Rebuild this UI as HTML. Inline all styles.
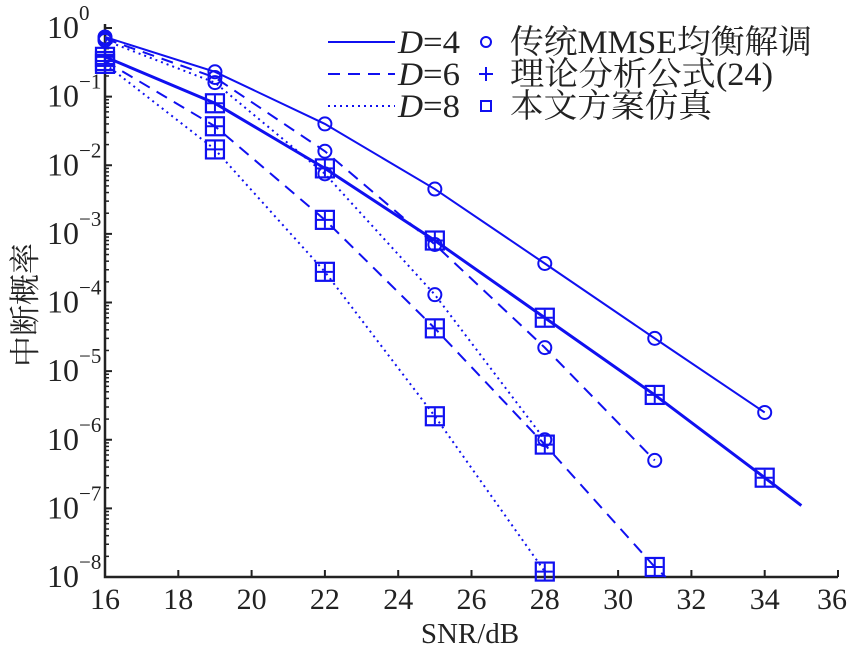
<!DOCTYPE html>
<html><head><meta charset="utf-8"><style>
html,body{margin:0;padding:0;background:#fff;}
svg{display:block;}
text{font-family:"Liberation Serif","Noto Serif CJK SC",serif;fill:#222;}
</style></head><body>
<svg id="chart" width="850" height="654" viewBox="0 0 850 654" xmlns="http://www.w3.org/2000/svg">
<g id="axes"></g>
<g id="series"></g>
<g id="legend"></g>
<text x="470" y="643" font-size="29" text-anchor="middle">SNR/dB</text>
<text transform="translate(36,305) rotate(-90)" font-size="31" text-anchor="middle">中断概率</text>
</svg>
<script>
const xTicks=[16,18,20,22,24,26,28,30,32,34,36];
const yExps=[0,-1,-2,-3,-4,-5,-6,-7,-8];
const snrMain=[16,19,22,25,28,31,34];
const d4Mmse=[0.74,0.23,0.04,4.5e-3,3.7e-4,3e-5,2.5e-6];
const d4Theory=[0.38,0.08,9e-3,8e-4,6e-5,4.5e-6,2.8e-7,1.1e-7];
const d4TheoryX=[16,19,22,25,28,31,34,35];
const d4Sim=[0.38,0.08,9e-3,8e-4,6e-5,4.5e-6,2.8e-7];
const d6Mmse=[0.7,0.19,0.016,7e-4,2.2e-5,5e-7];
const d6Theory=[0.33,0.037,1.6e-3,4.2e-5,8.5e-7,1.4e-8,1e-8];
const d6TheoryX=[16,19,22,25,28,31,31.3];
const d6Sim=[0.33,0.037,1.6e-3,4.2e-5,8.5e-7,1.4e-8];
const d8Mmse=[0.66,0.16,7.5e-3,1.3e-4,1e-6];
const d8Theory=[0.3,0.017,2.8e-4,2.2e-6,1.2e-8];
const d8Sim=[0.3,0.017,2.8e-4,2.2e-6,1.2e-8];

const NS='http://www.w3.org/2000/svg';
const X0=105,X1=838,Y0=28,Y1=577,BLUE='#1010f0';
const sx=v=>X0+(v-16)/(36-16)*(X1-X0);
const sy=v=>Y0+(-Math.log10(v))/8*(Y1-Y0);
function mk(tag,attrs,parent){const e=document.createElementNS(NS,tag);for(const k in attrs)e.setAttribute(k,attrs[k]);parent.appendChild(e);return e;}
const axes=document.getElementById('axes'),ser=document.getElementById('series'),leg=document.getElementById('legend');

let a=mk('path',{d:`M${X0},${Y0-4}V${Y1}H${X1}`,stroke:'#222','stroke-width':2.5,fill:'none'},axes);


xTicks.forEach(t=>{
 const x=sx(t);
 let l=mk('line',{x1:x,x2:x,y1:Y1,y2:Y1-7,stroke:'#222','stroke-width':2},axes);
 
 
 let tx=mk('text',{x:(t===36?x-6:x),y:Y1+32,'font-size':30,'text-anchor':'middle'},axes);
 tx.textContent=t;
 
 
});
yExps.forEach(e=>{
 const y=sy(Math.pow(10,e));
 let l=mk('line',{x1:X0,x2:X0+7,y1:y,y2:y,stroke:'#222','stroke-width':2},axes);
 
 
 if(e>-8){for(let m=2;m<=9;m++){const ym=sy(Math.pow(10,e-1)*m);
  let mm=mk('line',{x1:X0,x2:X0+4,y1:ym,y2:ym,stroke:'#222','stroke-width':1.5},axes);
  
  }}
 let tx=mk('text',{x:79,y:y+10,'font-size':32,'text-anchor':'end'},axes);
 tx.textContent='10';
 
 
 let sp=mk('text',{x:79,y:y-8,'font-size':21},axes);
 sp.textContent=e===0?'0':'\u2212'+(-e);
 
 
});

const dashes={4:'',6:'12,8',8:'2,4'};
function line(xs,ys,d,name,w){
 const pts=xs.map((x,i)=>sx(x)+','+sy(ys[i])).join(' ');
 let p=mk('polyline',{points:pts,fill:'none',stroke:BLUE,'stroke-width':w||2,'stroke-dasharray':dashes[d]},ser);
 
 
}
function circles(ys,name){ys.forEach((v,i)=>{
 let c=mk('circle',{cx:sx(snrMain[i]),cy:sy(v),r:6.5,fill:'none',stroke:BLUE,'stroke-width':2},ser);
 
 });}
function pluses(ys,name){ys.forEach((v,i)=>{const x=sx(snrMain[i]),y=sy(v);
 let p=mk('path',{d:`M${x-8},${y}H${x+8}M${x},${y-8}V${y+8}`,stroke:BLUE,'stroke-width':2},ser);
 
 });}
function squares(ys,name){ys.forEach((v,i)=>{const x=sx(snrMain[i]),y=sy(v);
 let s=mk('rect',{x:x-9,y:y-9,width:18,height:18,fill:'none',stroke:BLUE,'stroke-width':2.2},ser);
 
 });}

line(snrMain.slice(0,d4Mmse.length),d4Mmse,4,'line-d4-mmse');
line(d4TheoryX,d4Theory,4,'line-d4-theory',3);
line(snrMain.slice(0,d6Mmse.length),d6Mmse,6,'line-d6-mmse');
line(d6TheoryX,d6Theory,6,'line-d6-theory');
line(snrMain.slice(0,d8Mmse.length),d8Mmse,8,'line-d8-mmse');
line(snrMain.slice(0,d8Theory.length),d8Theory,8,'line-d8-theory');
circles(d4Mmse,'marker-d4-mmse');circles(d6Mmse,'marker-d6-mmse');circles(d8Mmse,'marker-d8-mmse');
pluses(d4Theory.slice(0,7),'marker-d4-theory');pluses(d6Theory.slice(0,6),'marker-d6-theory');pluses(d8Theory,'marker-d8-theory');
squares(d4Sim,'marker-d4-sim');squares(d6Sim,'marker-d6-sim');squares(d8Sim,'marker-d8-sim');

const legD=[4,6,8],legY=[42,74,106];
legD.forEach((d,i)=>{
 let l=mk('line',{x1:328,x2:395,y1:legY[i],y2:legY[i],stroke:BLUE,'stroke-width':2,'stroke-dasharray':dashes[d]},leg);
 
 
 let t=mk('text',{x:398,y:legY[i]+11,'font-size':33,textLength:62,lengthAdjust:'spacingAndGlyphs'},leg);
 t.innerHTML='<tspan font-style="italic">D</tspan>='+d;
 
 
});
let lc=mk('circle',{cx:486,cy:legY[0],r:5,fill:'none',stroke:BLUE,'stroke-width':2},leg);


let lp=mk('path',{d:`M479,${legY[1]}H493M486,${legY[1]-7}V${legY[1]+7}`,stroke:BLUE,'stroke-width':2},leg);


let ls=mk('rect',{x:481,y:legY[2]-5,width:10,height:10,fill:'none',stroke:BLUE,'stroke-width':2},leg);


const legText=['传统MMSE均衡解调','理论分析公式(24)','本文方案仿真'];
const legLen=[302,263,202];
legText.forEach((s,i)=>{
 let t=mk('text',{x:510,y:legY[i]+11,'font-size':33,textLength:legLen[i],lengthAdjust:'spacingAndGlyphs'},leg);
 t.textContent=s;
 
 
});
</script>
</body></html>
